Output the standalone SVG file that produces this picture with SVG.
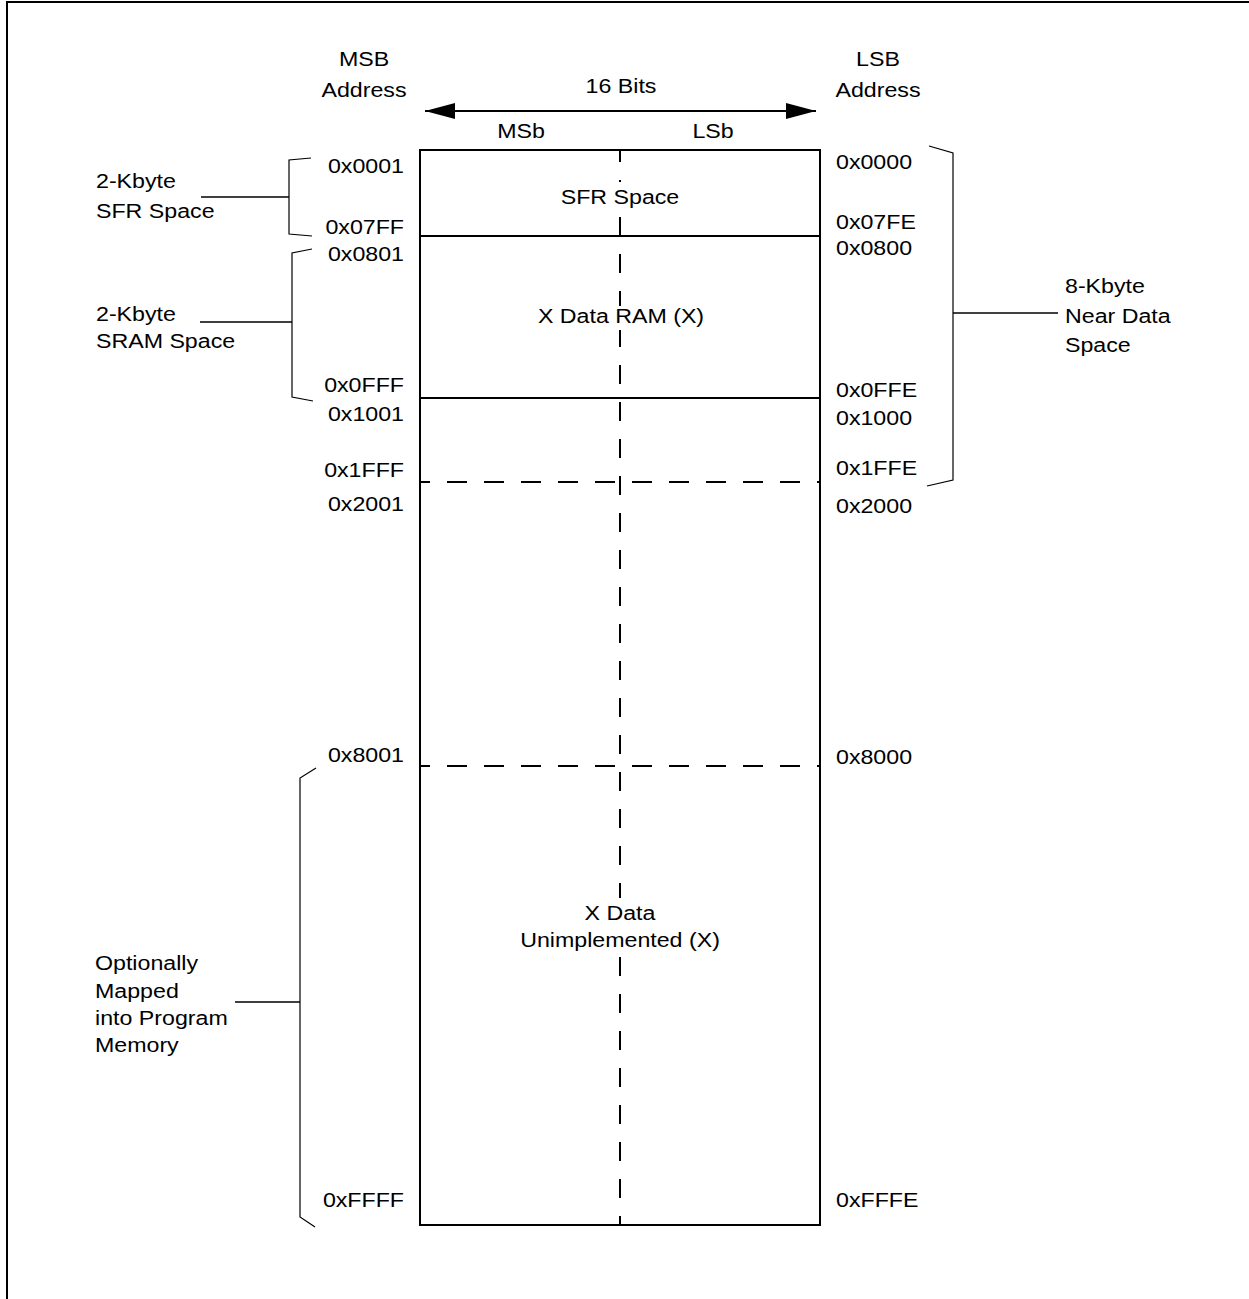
<svg xmlns="http://www.w3.org/2000/svg" width="1249" height="1299" viewBox="0 0 1249 1299">
<style>
text{font-family:"Liberation Sans",Arial,sans-serif;font-size:20px;fill:#000}
.m{text-anchor:middle}.e{text-anchor:end}
.thick{stroke:#000;stroke-width:2;fill:none}
.dash{stroke:#000;stroke-width:2;fill:none;stroke-dasharray:20 17;stroke-dashoffset:10}
.vdash{stroke:#000;stroke-width:2;fill:none;stroke-dasharray:19 18;stroke-dashoffset:7}
.br{stroke:#000;stroke-width:1.2;fill:none}
.ln{stroke:#000;stroke-width:1.6;fill:none}
</style>
<defs>
<marker id="ah" viewBox="0 0 30 16" refX="30" refY="8" markerWidth="30" markerHeight="16" markerUnits="userSpaceOnUse" orient="auto-start-reverse">
<path d="M0,0 L30,8 L0,16 Z" fill="#000"/>
</marker>
</defs>
<rect width="1249" height="1299" fill="#fff"/>
<path d="M7,1299 V2 H1249" class="thick"/>

<g id="header">
<text class="m" transform="translate(364 66) scale(1.16 1)">MSB</text>
<text class="m" transform="translate(364 97) scale(1.16 1)">Address</text>
<text class="m" transform="translate(878 66) scale(1.16 1)">LSB</text>
<text class="m" transform="translate(878 97) scale(1.16 1)">Address</text>
<text class="m" transform="translate(621 93) scale(1.16 1)">16 Bits</text>
<text class="m" transform="translate(521 138) scale(1.16 1)">MSb</text>
<text class="m" transform="translate(713 138) scale(1.16 1)">LSb</text>
</g>

<g id="memory-map">
<line x1="620" y1="150" x2="620" y2="1225" class="vdash"/>
<line x1="420" y1="482" x2="820" y2="482" class="dash"/>
<line x1="420" y1="766" x2="820" y2="766" class="dash"/>
<line x1="420" y1="236" x2="820" y2="236" class="thick"/>
<line x1="420" y1="398" x2="820" y2="398" class="thick"/>
<rect x="420" y="150" width="400" height="1075" class="thick"/>
</g>

<g id="sfr-space">
<rect x="556" y="182" width="128" height="32" fill="#fff"/>
<text class="m" transform="translate(620 204) scale(1.16 1)">SFR Space</text>
</g>
<g id="x-data-ram">
<rect x="538" y="306" width="166" height="24" fill="#fff"/>
<text class="m" transform="translate(621 323) scale(1.16 1)">X Data RAM (X)</text>
</g>
<g id="x-data-unimpl">
<rect x="514" y="898" width="212" height="56" fill="#fff"/>
<text class="m" transform="translate(620 920) scale(1.16 1)">X Data</text>
<text class="m" transform="translate(620 947) scale(1.16 1)">Unimplemented (X)</text>
</g>

<g id="msb-addresses">
<text class="e" transform="translate(404 173) scale(1.16 1)">0x0001</text>
<text class="e" transform="translate(404 234) scale(1.16 1)">0x07FF</text>
<text class="e" transform="translate(404 261) scale(1.16 1)">0x0801</text>
<text class="e" transform="translate(404 392) scale(1.16 1)">0x0FFF</text>
<text class="e" transform="translate(404 421) scale(1.16 1)">0x1001</text>
<text class="e" transform="translate(404 477) scale(1.16 1)">0x1FFF</text>
<text class="e" transform="translate(404 511) scale(1.16 1)">0x2001</text>
<text class="e" transform="translate(404 762) scale(1.16 1)">0x8001</text>
<text class="e" transform="translate(404 1207) scale(1.16 1)">0xFFFF</text>
</g>

<g id="lsb-addresses">
<text transform="translate(836 169) scale(1.16 1)">0x0000</text>
<text transform="translate(836 229) scale(1.16 1)">0x07FE</text>
<text transform="translate(836 255) scale(1.16 1)">0x0800</text>
<text transform="translate(836 397) scale(1.16 1)">0x0FFE</text>
<text transform="translate(836 425) scale(1.16 1)">0x1000</text>
<text transform="translate(836 475) scale(1.16 1)">0x1FFE</text>
<text transform="translate(836 513) scale(1.16 1)">0x2000</text>
<text transform="translate(836 764) scale(1.16 1)">0x8000</text>
<text transform="translate(836 1207) scale(1.16 1)">0xFFFE</text>
</g>

<g id="label-sfr">
<text transform="translate(96 188) scale(1.16 1)">2-Kbyte</text>
<text transform="translate(96 218) scale(1.16 1)">SFR Space</text>
</g>
<g id="label-sram">
<text transform="translate(96 321) scale(1.16 1)">2-Kbyte</text>
<text transform="translate(96 348) scale(1.16 1)">SRAM Space</text>
</g>
<g id="label-near">
<text transform="translate(1065 293) scale(1.16 1)">8-Kbyte</text>
<text transform="translate(1065 323) scale(1.16 1)">Near Data</text>
<text transform="translate(1065 352) scale(1.16 1)">Space</text>
</g>
<g id="label-program">
<text transform="translate(95 970) scale(1.16 1)">Optionally</text>
<text transform="translate(95 998) scale(1.16 1)">Mapped</text>
<text transform="translate(95 1025) scale(1.16 1)">into Program</text>
<text transform="translate(95 1052) scale(1.16 1)">Memory</text>
</g>

<g id="connectors">
<line x1="455" y1="111" x2="787" y2="111" class="thick"/>
<line x1="445" y1="111" x2="425" y2="111" class="thick" marker-end="url(#ah)"/>
<line x1="797" y1="111" x2="816" y2="111" class="thick" marker-end="url(#ah)"/>
<path d="M311,158 L289,160 V234 L312,236" class="br"/>
<line x1="201" y1="197" x2="289" y2="197" class="ln"/>
<path d="M312,249 L292,253 V397 L313,401" class="br"/>
<line x1="200" y1="322" x2="292" y2="322" class="ln"/>
<path d="M929,146 L953,153 V480 L927,486" class="br"/>
<line x1="953" y1="313" x2="1058" y2="313" class="ln"/>
<path d="M316,768 L300,778 V1217 L315,1227" class="br"/>
<line x1="235" y1="1002" x2="300" y2="1002" class="ln"/>
</g>
</svg>
